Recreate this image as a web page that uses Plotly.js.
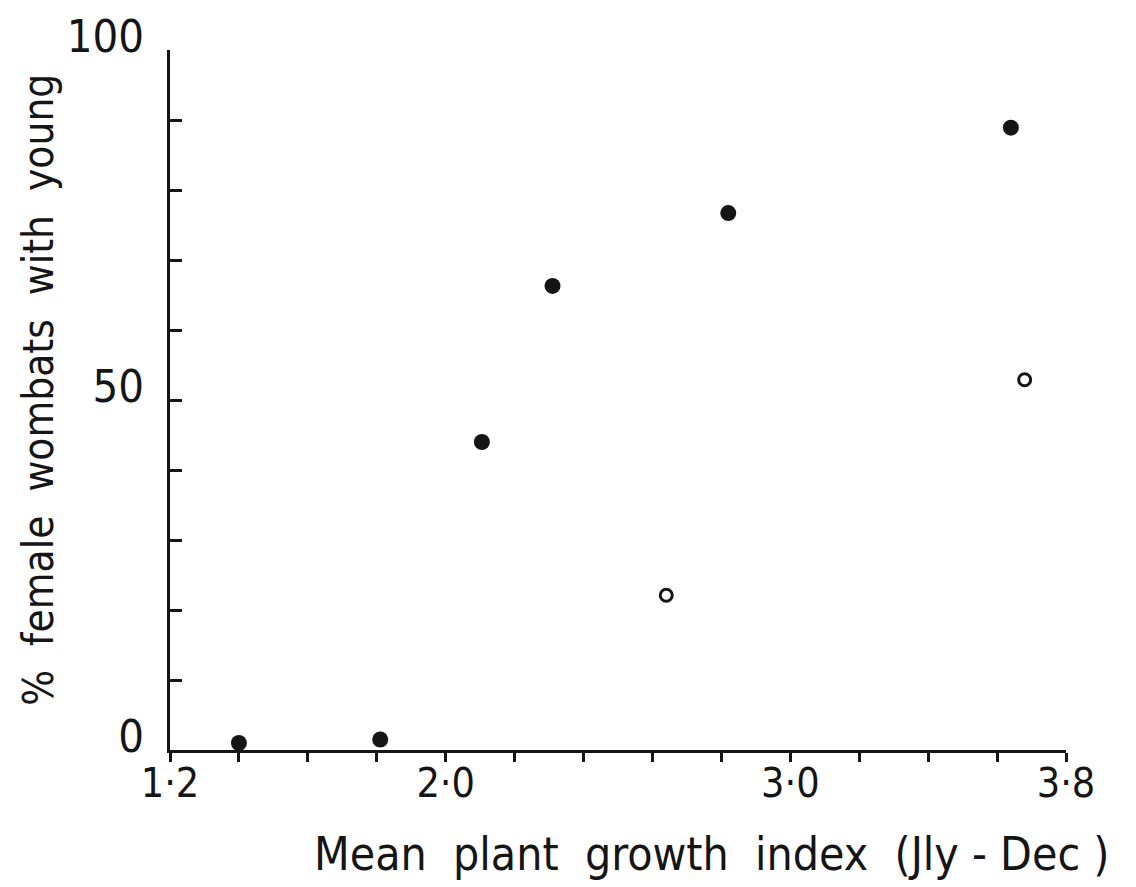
<!DOCTYPE html>
<html>
<head>
<meta charset="utf-8">
<script src="https://cdn.plot.ly/plotly-3.0.1.min.js"></script>
<style>html,body{margin:0;padding:0;background:#fff;}#chart{width:1136px;height:887px;}</style>
</head>
<body>
<div id="chart"></div>
<script>
// Data
const filledX = [1.40, 1.81, 2.105, 2.31, 2.82, 3.64];
const filledY = [1, 1.5, 44, 66.3, 76.7, 88.9];
const openX = [2.64, 3.68];
const openY = [22.1, 52.9];

const xTickVals = [1.2,1.4,1.6,1.8,2.0,2.2,2.4,2.6,2.8,3.0,3.2,3.4,3.6,3.8];
const xTickText = ['1·2','','','','2·0','','','','','3·0','','','','3·8'];
const yTickVals = [0,10,20,30,40,50,60,70,80,90,100];
const yTickText = ['0','','','','','50','','','','','100'];

const xTitle = 'Mean  plant  growth  index  (Jly - Dec )';
const yTitle = '%  female  wombats  with  young';

const fontFam = '"Liberation Sans Narrow", "DejaVu Sans Condensed", "DejaVu Sans", sans-serif';

const traces = [
  {x: filledX, y: filledY, mode: 'markers', type: 'scatter',
   marker: {symbol: 'circle', size: 16, color: '#151515', line: {width: 0}}, cliponaxis: false},
  {x: openX, y: openY, mode: 'markers', type: 'scatter',
   marker: {symbol: 'circle-open', size: 12, color: '#151515', line: {width: 3, color: '#151515'}}, cliponaxis: false}
];

const layout = {
  width: 1136, height: 887,
  margin: {l: 170, r: 70, t: 50, b: 137},
  paper_bgcolor: '#ffffff', plot_bgcolor: '#ffffff',
  showlegend: false,
  font: {family: fontFam, color: '#151515'},
  xaxis: {
    range: [1.2, 3.8], showgrid: false, zeroline: false,
    showline: true, linecolor: '#151515', linewidth: 3,
    tickmode: 'array', tickvals: xTickVals, ticktext: xTickText,
    ticks: 'outside', ticklen: 9, tickwidth: 3, tickcolor: '#151515',
    ticklabelstandoff: -14,
    tickfont: {size: 41, family: fontFam, color: '#151515'}
  },
  yaxis: {
    range: [0, 100], showgrid: false, zeroline: false,
    showline: true, linecolor: '#151515', linewidth: 3,
    tickmode: 'array', tickvals: yTickVals, ticktext: yTickText,
    ticks: 'inside', ticklen: 12, tickwidth: 3, tickcolor: '#151515',
    ticklabelstandoff: 14, ticklabelshift: -14,
    tickfont: {size: 45, family: fontFam, color: '#151515'}
  },
  annotations: [
    {text: xTitle, xref: 'paper', yref: 'paper', x: 0.604, y: -0.148,
     xanchor: 'center', yanchor: 'middle', showarrow: false,
     font: {size: 46, family: fontFam, color: '#151515'}},
    {text: yTitle, xref: 'paper', yref: 'paper', x: -0.147, y: 0.515,
     xanchor: 'center', yanchor: 'middle', showarrow: false, textangle: -90,
     font: {size: 42, family: fontFam, color: '#151515'}}
  ]
};

Plotly.newPlot('chart', traces, layout, {displayModeBar: false, staticPlot: true});
</script>
</body>
</html>
